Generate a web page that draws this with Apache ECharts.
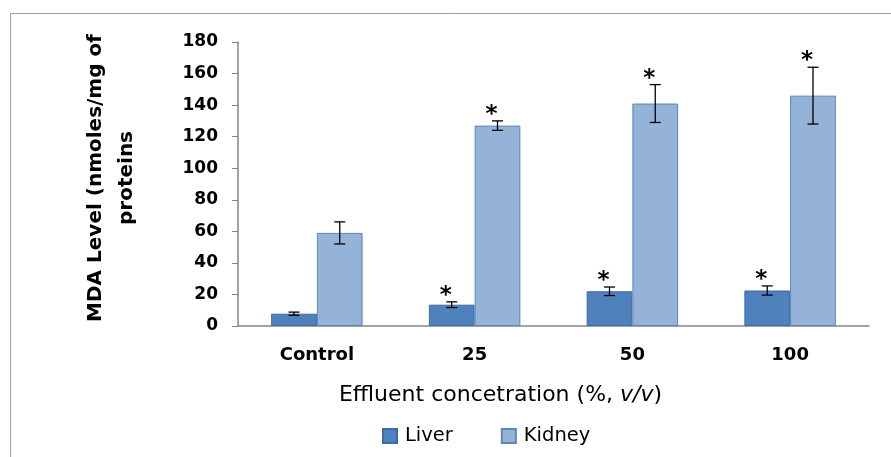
<!DOCTYPE html>
<html>
<head>
<meta charset="utf-8">
<script src="https://cdn.jsdelivr.net/npm/echarts@6/dist/echarts.min.js"></script>
<style>
html,body{margin:0;padding:0;background:#fff;}
#chart{width:891px;height:457px;}
</style>
</head>
<body>
<div id="chart"></div>
<script>
var categories = ['Control', '25', '50', '100'];
var liver = [7.8, 13.5, 22, 22.5];
var liverErr = [1, 1.8, 2.7, 2.9];
var kidney = [59, 127, 141, 146];
var kidneyErr = [7, 3, 12, 18];
var liverSig = [false, true, true, true];
var kidneySig = [false, true, true, true];
var yTicks = [0, 20, 40, 60, 80, 100, 120, 140, 160, 180];

var FONT = '"DejaVu Sans", sans-serif';
var GAP = 0.42;

function errSeries(name, vals, errs, sig, side) {
  return {
    type: 'custom',
    name: name + ' err',
    z: 10,
    silent: true,
    data: vals.map(function (v, i) { return [i, v, errs[i], sig[i] ? 1 : 0]; }),
    renderItem: function (params, api) {
      var i = api.value(0), v = api.value(1), e = api.value(2), s = api.value(3);
      var catW = api.size([1, 0])[0];
      var bw = catW * (1 - GAP) / 2;
      var c = api.coord([i, v]);
      var x = c[0] + side * bw / 2;
      var top = api.coord([i, v + e])[1];
      var bot = api.coord([i, v - e])[1];
      var cap = 5.5;
      var st = { stroke: '#000', lineWidth: 1.3 };
      var children = [
        { type: 'line', shape: { x1: x, y1: top, x2: x, y2: bot }, style: st },
        { type: 'line', shape: { x1: x - cap, y1: top, x2: x + cap, y2: top }, style: st },
        { type: 'line', shape: { x1: x - cap, y1: bot, x2: x + cap, y2: bot }, style: st }
      ];
      if (s) {
        children.push({
          type: 'text',
          style: { text: '*', x: x - 6, y: top - 6, align: 'center', verticalAlign: 'middle',
                   font: 'bold 23px ' + FONT, fill: '#000' }
        });
      }
      return { type: 'group', children: children };
    }
  };
}

var chart = echarts.init(document.getElementById('chart'));
chart.setOption({
  animation: false,
  backgroundColor: '#fff',
  textStyle: { fontFamily: FONT },
  graphic: [{
    type: 'rect', silent: true,
    shape: { x: 10.5, y: 13.5, width: 900, height: 460 },
    style: { fill: 'none', stroke: '#a0a0a0', lineWidth: 1 }
  }],
  grid: { left: 238, right: 22, top: 42, bottom: 131, containLabel: false },
  legend: {
    bottom: 6, left: 377,
    itemWidth: 14, itemHeight: 14, itemGap: 48,
    icon: 'rect',
    data: ['Liver', 'Kidney'],
    textStyle: { fontSize: 19.5, color: '#000', fontFamily: FONT, padding: [0, 0, 0, 3] }
  },
  xAxis: {
    type: 'category',
    data: categories,
    axisLine: { lineStyle: { color: '#868686', width: 1.5 } },
    axisTick: { length: 6, lineStyle: { color: '#868686' } },
    axisLabel: { fontSize: 18, fontWeight: 'bold', color: '#000', margin: 20, fontFamily: FONT },
    name: 'Effluent concetration (%, {i|v/v})',
    nameLocation: 'middle',
    nameGap: 58,
    nameTextStyle: {
      fontSize: 22, color: '#000', fontFamily: FONT,
      padding: [0, 106, 0, 0],
      rich: { i: { fontSize: 22, fontStyle: 'italic', color: '#000', fontFamily: FONT } }
    }
  },
  yAxis: {
    type: 'value',
    min: 0, max: 180, interval: 20,
    axisLine: { show: true, lineStyle: { color: '#868686', width: 1.5 } },
    axisTick: { show: true, length: 6, lineStyle: { color: '#868686' } },
    splitLine: { show: false },
    axisLabel: {
      fontSize: 17, fontWeight: 'bold', color: '#000', margin: 20, fontFamily: FONT,
      formatter: function (v) { return yTicks.indexOf(v) >= 0 ? String(v) : ''; }
    },
    name: 'MDA Level (nmoles/mg of\nproteins',
    nameLocation: 'middle',
    nameRotate: 90,
    nameGap: 96,
    nameTextStyle: { fontSize: 20, fontWeight: 'bold', color: '#000', lineHeight: 31, fontFamily: FONT,
                     padding: [0, 0, 0, 12] }
  },
  series: [
    {
      name: 'Liver', type: 'bar', data: liver,
      barGap: '0%', barCategoryGap: (GAP * 100) + '%',
      itemStyle: { color: '#4F81BD', borderColor: '#3D6B9E', borderWidth: 1 }
    },
    {
      name: 'Kidney', type: 'bar', data: kidney,
      barGap: '0%', barCategoryGap: (GAP * 100) + '%',
      itemStyle: { color: '#95B3D7', borderColor: '#5A86BB', borderWidth: 1 }
    },
    errSeries('Liver', liver, liverErr, liverSig, -1),
    errSeries('Kidney', kidney, kidneyErr, kidneySig, 1)
  ]
});
</script>
</body>
</html>
